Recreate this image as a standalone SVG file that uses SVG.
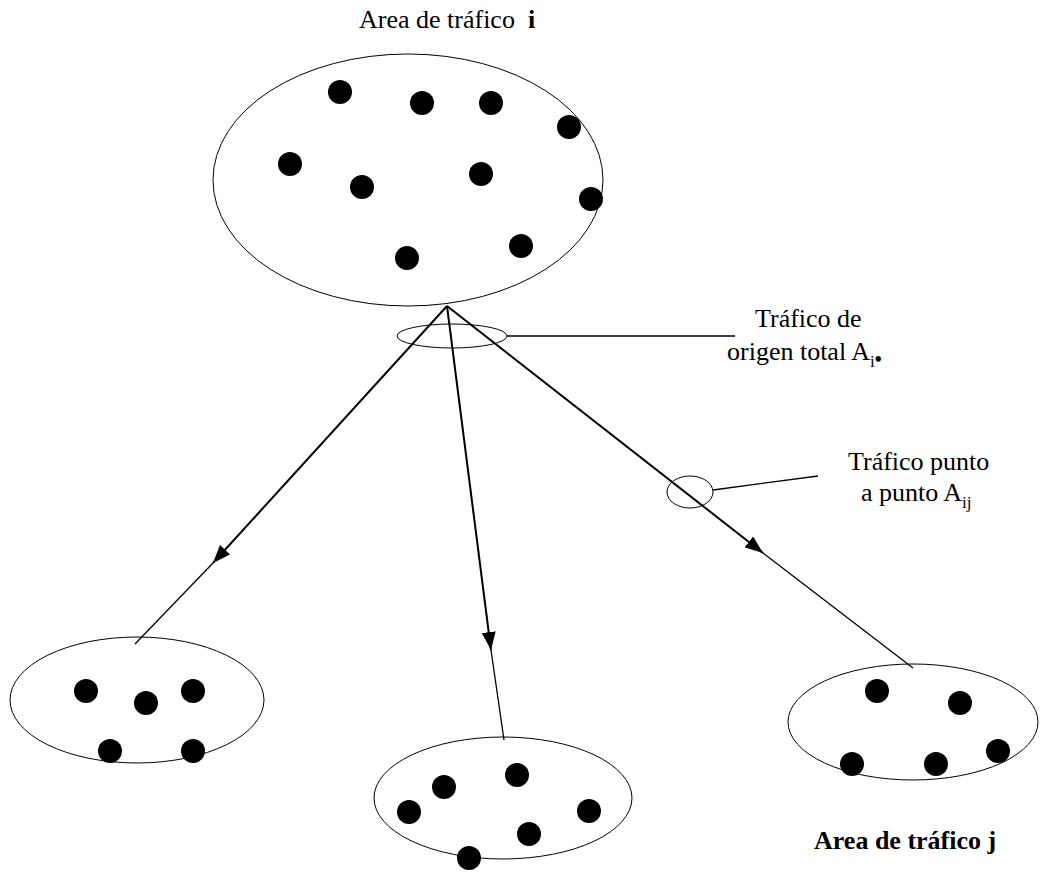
<svg xmlns="http://www.w3.org/2000/svg" width="1040" height="887" viewBox="0 0 1040 887">
  <style>
    .area { fill: none; stroke: #000; stroke-width: 1; }
    .dot { fill: #000; }
    .flow { stroke: #000; stroke-width: 2; fill: none; }
    .thin { stroke: #000; stroke-width: 1.3; fill: none; }
    .lbl { font-family: "Liberation Serif", "Times New Roman", serif; font-size: 26px; fill: #000; }
    .sub { font-size: 17px; }
  </style>
  <defs>
    <marker id="arrow" viewBox="0 0 18 14" refX="18" refY="7" markerWidth="18" markerHeight="14" markerUnits="userSpaceOnUse" orient="auto">
      <path d="M0,0 L18,7 L0,14 z" fill="#000"/>
    </marker>
  </defs>
  <rect width="1040" height="887" fill="#fff"/>

  <g id="area-i">
    <ellipse class="area" cx="408" cy="180" rx="195" ry="126"/>
    <circle class="dot" cx="340" cy="92" r="12"/>
    <circle class="dot" cx="422" cy="103" r="12"/>
    <circle class="dot" cx="491" cy="103" r="12"/>
    <circle class="dot" cx="569" cy="127" r="12"/>
    <circle class="dot" cx="290" cy="164" r="12"/>
    <circle class="dot" cx="362" cy="187" r="12"/>
    <circle class="dot" cx="481" cy="174" r="12"/>
    <circle class="dot" cx="591" cy="199" r="12"/>
    <circle class="dot" cx="407" cy="258" r="12"/>
    <circle class="dot" cx="521" cy="246" r="12"/>
    <text class="lbl" x="359" y="28" xml:space="preserve">Area de tráfico  <tspan font-weight="bold">i</tspan></text>
  </g>

  <g id="area-left">
    <ellipse class="area" cx="137" cy="700" rx="127" ry="63"/>
    <circle class="dot" cx="86" cy="691" r="12"/>
    <circle class="dot" cx="146" cy="703" r="12"/>
    <circle class="dot" cx="193" cy="691" r="12"/>
    <circle class="dot" cx="110" cy="751" r="12"/>
    <circle class="dot" cx="193" cy="751" r="12"/>
  </g>

  <g id="area-middle">
    <ellipse class="area" cx="503" cy="798" rx="129" ry="61"/>
    <circle class="dot" cx="517" cy="775" r="12"/>
    <circle class="dot" cx="444" cy="787" r="12"/>
    <circle class="dot" cx="409" cy="812" r="12"/>
    <circle class="dot" cx="589" cy="811" r="12"/>
    <circle class="dot" cx="529" cy="834" r="12"/>
    <circle class="dot" cx="469" cy="858" r="12"/>
  </g>

  <g id="area-j">
    <ellipse class="area" cx="913" cy="722" rx="125" ry="58"/>
    <circle class="dot" cx="877" cy="691" r="12"/>
    <circle class="dot" cx="960" cy="703" r="12"/>
    <circle class="dot" cx="998" cy="751" r="12"/>
    <circle class="dot" cx="852" cy="764" r="12"/>
    <circle class="dot" cx="936" cy="764" r="12"/>
    <text class="lbl" x="814" y="849" font-weight="bold">Area de tráfico j</text>
  </g>

  <g id="connectors">
    <!-- flows leaving area i -->
    <line class="flow" x1="447" y1="306" x2="213" y2="563" marker-end="url(#arrow)"/>
    <line class="thin" x1="213" y1="563" x2="135" y2="644"/>
    <line class="flow" x1="447" y1="306" x2="491" y2="650" marker-end="url(#arrow)"/>
    <line class="thin" x1="491" y1="650" x2="504" y2="740"/>
    <line class="flow" x1="447" y1="306" x2="763" y2="553" marker-end="url(#arrow)"/>
    <line class="thin" x1="763" y1="553" x2="913" y2="668"/>
  </g>

  <g id="callout-total">
    <ellipse class="area" cx="452" cy="336" rx="55" ry="12"/>
    <line class="thin" x1="507" y1="336" x2="735" y2="336"/>
    <text class="lbl" x="755" y="327">Tráfico de</text>
    <text class="lbl" x="727" y="360">origen total A<tspan class="sub" dy="7">i</tspan><tspan font-size="20" font-weight="bold" dy="-1">•</tspan></text>
  </g>

  <g id="callout-pair">
    <ellipse class="area" cx="690" cy="492" rx="23" ry="16"/>
    <line class="thin" x1="713" y1="490" x2="818" y2="476"/>
    <text class="lbl" x="848" y="470">Tráfico punto</text>
    <text class="lbl" x="861" y="501">a punto A<tspan class="sub" dy="7">ij</tspan></text>
  </g>
</svg>
